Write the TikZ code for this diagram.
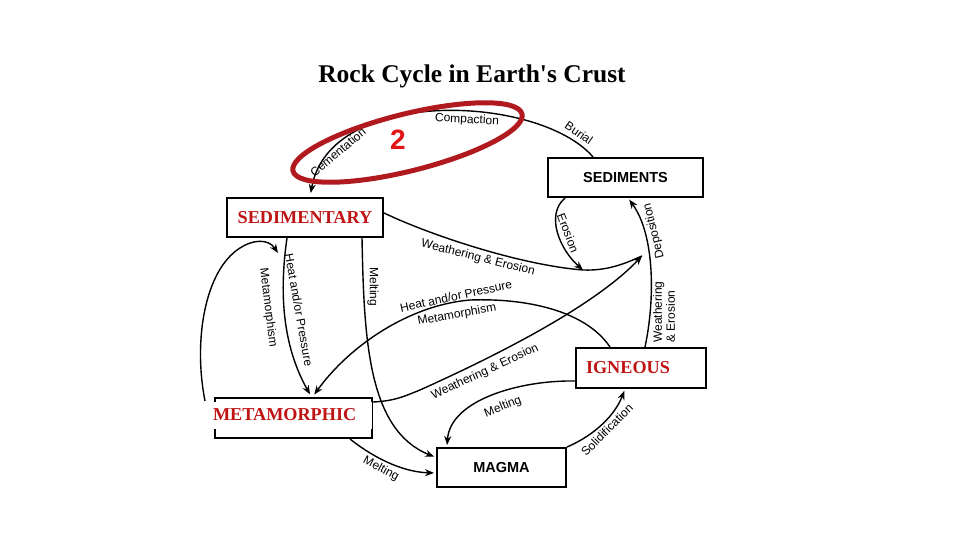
\documentclass[tikz,border=0pt]{standalone}
\usepackage{fontspec}
\setmainfont{Liberation Serif}
\setsansfont{Liberation Sans}
\usetikzlibrary{arrows.meta}
\definecolor{boxred}{RGB}{192,20,20}
\definecolor{ringred}{RGB}{176,26,30}
\definecolor{numred}{RGB}{226,20,20}
\begin{document}
\begin{tikzpicture}[x=1pt,y=-1pt,
  box/.style={draw, line width=2pt, fill=white, inner sep=0pt},
  conn/.style={line width=1.4pt, -{Stealth[length=9pt,width=7pt]}},
  plainline/.style={line width=1.4pt},
  lbl/.style={font=\sffamily\fontsize{12}{13}\selectfont, inner sep=0pt},
  redtxt/.style={font=\rmfamily\bfseries\fontsize{18.2}{19}\selectfont, text=boxred},
  blktxt/.style={font=\sffamily\bfseries\fontsize{14.5}{15}\selectfont}]

\fill[white] (0,0) rectangle (960,540);
\useasboundingbox (0,0) rectangle (960,540);

% title
\node[font=\rmfamily\bfseries\fontsize{25.5}{26}\selectfont, anchor=base, inner sep=0pt] (title) at (472,83) {Rock Cycle in Earth\textquotesingle s Crust};

% boxes
\node[box, minimum width=155pt, minimum height=39pt, blktxt] (sediments) at (625.5,177.5) {SEDIMENTS};
\node[box, minimum width=156pt, minimum height=39pt, redtxt] (sedimentary) at (305,217.5) {SEDIMENTARY};
\node[box, minimum width=130pt, minimum height=40pt, redtxt, text width=110pt, align=left, inner xsep=10pt] (igneous) at (641,368) {IGNEOUS};
\node[box, minimum width=157pt, minimum height=40pt] (metamorphic) at (293.5,418) {};
\node[box, minimum width=129pt, minimum height=39pt, blktxt] (magma) at (501.5,467.5) {MAGMA};

\coordinate (join) at (583,270);
\coordinate (dep) at (642,256);
\coordinate (loopend) at (278,253);

% connectors
\draw[conn, shorten >=4pt] ([xshift=-32.5pt]sediments.north) .. controls (540,95) and (330,85) .. ([xshift=5pt]sedimentary.north);
\draw[plainline] ([yshift=4.5pt]sedimentary.east) .. controls (430,235) and (520,265) .. (join) .. controls (610,271) and (628,262) .. (dep);
\draw[conn] ([xshift=-60.5pt]sediments.south) .. controls (545,215) and (560,250) .. (join);
\draw[conn, shorten >=2pt] ([xshift=4pt]igneous.north) .. controls (655,300) and (655,235) .. ([xshift=2.5pt]sediments.south);
\draw[conn] ([yshift=-5pt]metamorphic.north east) .. controls (395,401) and (405,396) .. (420,390) .. controls (520,345) and (600,300) .. (dep);
\draw[conn, shorten >=3pt] ([xshift=-31pt]igneous.north) .. controls (585,310) and (525,298) .. (470,300) .. controls (410,305) and (350,345) .. ([xshift=19pt]metamorphic.north);
\draw[conn] ([xshift=-9pt, yshift=-4pt]metamorphic.north west) .. controls (193,340) and (205,270) .. (240,248) .. controls (252,240) and (268,238) .. (loopend);
\draw[conn, shorten >=3pt] ([xshift=-18pt]sedimentary.south) .. controls (278,300) and (285,350) .. ([xshift=18pt]metamorphic.north);
\draw[conn, shorten >=2pt] ([xshift=57pt]sedimentary.south) .. controls (364,340) and (368,430) .. ([yshift=10pt]magma.west);
\draw[conn, shorten >=2pt] ([xshift=56.5pt]metamorphic.south) .. controls (370,455) and (400,472) .. ([yshift=-5.5pt]magma.west);
\draw[conn, shorten >=2pt] ([yshift=-13pt]igneous.west) .. controls (520,380) and (450,400) .. ([xshift=-54.5pt]magma.north);
\draw[conn, shorten >=2pt] (magma.north east) .. controls (595,435) and (615,415) .. ([xshift=-16pt]igneous.south);

% white label pasted over the metamorphic box
\node[fill=white, redtxt, text width=151pt, align=left, inner xsep=8pt, inner ysep=0pt, minimum height=27pt] (metalabel) at (288.5,415) {METAMORPHIC};

% labels
\node[lbl, rotate=-35] (lburial) at (579,133) {Burial};
\node[lbl, rotate=-3] (lcompaction) at (467,120) {Compaction};
\node[lbl, rotate=40] (lcementation) at (338,152) {Cementation};
\node[lbl, rotate=-14] (lwe1) at (478,258) {Weathering \& Erosion};
\node[lbl, rotate=-69] (lerosion) at (568,233) {Erosion};
\node[lbl, rotate=104] (ldeposition) at (654,231) {Deposition};
\node[lbl, rotate=90, align=left] (lwe2) at (664,312) {Weathering\\\& Erosion};
\node[lbl, rotate=-90] (lmelt1) at (373,287) {Melting};
\node[lbl, rotate=-80] (lheat1) at (299,310) {Heat and/or Pressure};
\node[lbl, rotate=-83] (lmeta1) at (268,308) {Metamorphism};
\node[lbl, rotate=12] (lheat2) at (456,296) {Heat and/or Pressure};
\node[lbl, rotate=10] (lmeta2) at (457,315) {Metamorphism};
\node[lbl, rotate=25] (lwe3) at (485,372) {Weathering \& Erosion};
\node[lbl, rotate=22] (lmelt2) at (503,407) {Melting};
\node[lbl, rotate=45] (lsolid) at (607,430) {Solidification};
\node[lbl, rotate=-28] (lmelt3) at (381,469) {Melting};

% red highlight
\draw[ringred, line width=5pt, shift={(407.5,142.5)}, rotate=14] (0,0) ellipse [x radius=118pt, y radius=28.5pt];
\node[font=\sffamily\bfseries\fontsize{28}{28}\selectfont, text=numred, inner sep=0pt] (two) at (398,140) {2};
\end{tikzpicture}
\end{document}
